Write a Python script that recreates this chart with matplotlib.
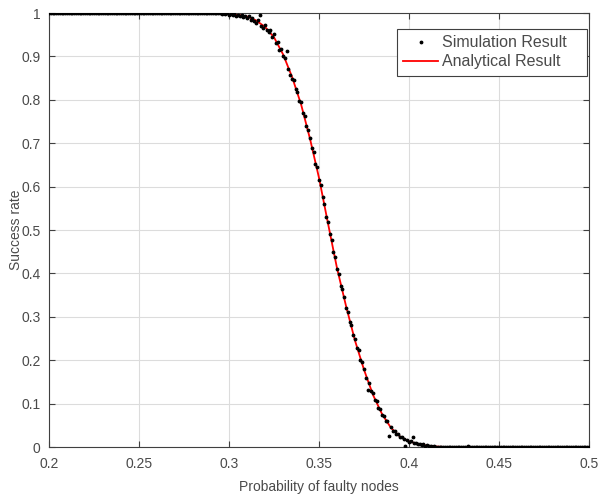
import numpy as np
import matplotlib
matplotlib.use("Agg")
import matplotlib.pyplot as plt

plt.rcParams["font.family"] = ["Liberation Sans", "DejaVu Sans"]

# analytical curve
ana_x = [0.200, 0.290, 0.300, 0.305, 0.310, 0.315, 0.320, 0.325, 0.330, 0.335,
         0.340, 0.345, 0.350, 0.355, 0.360, 0.365, 0.370, 0.375, 0.380, 0.385,
         0.390, 0.395, 0.400, 0.405, 0.410, 0.415, 0.420, 0.500]
ana_y = [1.000, 1.000, 0.998, 0.996, 0.992, 0.983, 0.968, 0.944, 0.905, 0.853,
         0.790, 0.710, 0.620, 0.515, 0.412, 0.325, 0.245, 0.178, 0.120, 0.076,
         0.044, 0.024, 0.013, 0.007, 0.003, 0.001, 0.000, 0.000]

# simulation points, step 0.001
sim_flat_high = [1.0] * 90          # 0.200 .. 0.289
sim_mid = [
    1.000, 1.000, 0.999, 1.000, 0.999, 1.000, 0.998, 0.999, 0.997, 0.999,  # 0.290
    0.996, 0.998, 0.995, 0.997, 0.994, 0.996, 0.993, 0.995, 0.990, 0.992,  # 0.300
    0.989, 0.993, 0.985, 0.988, 0.982, 0.978, 0.984, 0.995, 0.971, 0.966,  # 0.310
    0.972, 0.960, 0.956, 0.961, 0.945, 0.951, 0.930, 0.933, 0.915, 0.918,  # 0.320
    0.900, 0.897, 0.912, 0.871, 0.858, 0.848, 0.845, 0.826, 0.818, 0.797,  # 0.330
    0.795, 0.770, 0.762, 0.739, 0.730, 0.712, 0.688, 0.679, 0.652, 0.645,  # 0.340
    0.616, 0.604, 0.575, 0.560, 0.531, 0.519, 0.490, 0.478, 0.450, 0.437,  # 0.350
    0.410, 0.398, 0.372, 0.363, 0.346, 0.320, 0.312, 0.288, 0.281, 0.258,  # 0.360
    0.250, 0.228, 0.223, 0.200, 0.195, 0.180, 0.160, 0.131, 0.147, 0.128,  # 0.370
    0.124, 0.108, 0.106, 0.090, 0.088, 0.073, 0.072, 0.060, 0.059, 0.026,  # 0.380
    0.046, 0.038, 0.037, 0.030, 0.029, 0.022, 0.023, 0.018, 0.003, 0.016,  # 0.390
    0.012, 0.014, 0.022, 0.009, 0.010, 0.006, 0.007, 0.004, 0.006, 0.003,  # 0.400
    0.004, 0.002, 0.003, 0.001, 0.002, 0.001, 0.001, 0.000, 0.001, 0.000,  # 0.410
    0.000, 0.000, 0.001, 0.000, 0.000, 0.000, 0.000, 0.000, 0.000, 0.000,  # 0.420
    0.000, 0.000, 0.000, 0.003, 0.000, 0.000, 0.000, 0.000, 0.000, 0.000,  # 0.430
]
sim_flat_low = [0.0] * 61           # 0.440 .. 0.500
sim_y = sim_flat_high + sim_mid + sim_flat_low
sim_x = np.round(np.linspace(0.2, 0.5, len(sim_y)), 3)

gray = "#404040"
text_gray = "#4a4a4a"

fig = plt.figure(figsize=(6.0, 4.97), dpi=100)
ax = fig.add_axes([0.0817, 0.1006, 0.9, 0.8732])

ax.plot(ana_x, ana_y, color="red", linewidth=1.3, label="Analytical Result", zorder=2)
ax.plot(sim_x, sim_y, linestyle="none", marker=".", markersize=3.5, color="black",
        label="Simulation Result", zorder=3)

ax.set_xlim(0.2, 0.5)
ax.set_ylim(0, 1)
ax.set_xticks([0.2, 0.25, 0.3, 0.35, 0.4, 0.45, 0.5])
ax.set_xticklabels(["0.2", "0.25", "0.3", "0.35", "0.4", "0.45", "0.5"])
ax.set_yticks(np.arange(0, 1.01, 0.1))
ax.set_yticklabels(["0", "0.1", "0.2", "0.3", "0.4", "0.5", "0.6", "0.7", "0.8", "0.9", "1"])
ax.grid(True, color="#dcdcdc", linewidth=0.8)
ax.set_axisbelow(True)

ax.tick_params(direction="in", top=True, right=True, length=4, width=0.8,
               colors=gray, labelcolor=text_gray, labelsize=10)
ax.tick_params(axis="x", pad=7)
ax.tick_params(axis="y", pad=6)
for s in ax.spines.values():
    s.set_color(gray)
    s.set_linewidth(0.8)

ax.set_xlabel("Probability of faulty nodes", fontsize=10, color=text_gray, labelpad=7)
ax.set_ylabel("Success rate", fontsize=10, color=text_gray, labelpad=-1)

handles, labels = ax.get_legend_handles_labels()
leg = ax.legend(handles[::-1], labels[::-1], loc="upper left",
                bbox_to_anchor=(0.644, 0.850, 0.352, 0.113), mode="expand",
                borderaxespad=0, fontsize=11.5, fancybox=False, framealpha=1,
                edgecolor=gray, borderpad=0.4, labelspacing=0.25,
                handlelength=2.2, handletextpad=0.2, markerscale=1.0,
                labelcolor=text_gray)
leg.get_frame().set_linewidth(0.8)

fig.savefig("out.png", dpi=100)
